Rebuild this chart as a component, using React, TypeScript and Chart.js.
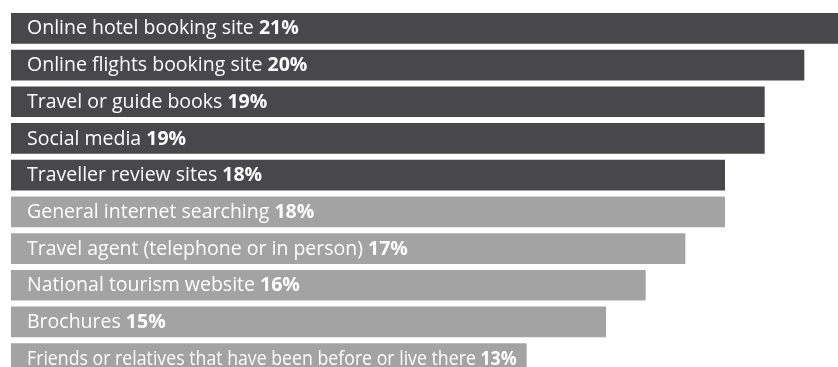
import React, { useEffect, useRef } from "react";
import { Chart, registerables } from "chart.js";

Chart.register(...registerables);

const categories = [
  "Online hotel booking site",
  "Online flights booking site",
  "Travel or guide books",
  "Social media",
  "Traveller review sites",
  "General internet searching",
  "Travel agent (telephone or in person)",
  "National tourism website",
  "Brochures",
  "Friends or relatives that have been before or live there",
];
const values = [21, 20, 19, 19, 18, 18, 17, 16, 15, 13];
const groups = ["dark", "dark", "dark", "dark", "dark", "light", "light", "light", "light", "light"];

const DARK = "#48484a";
const LIGHT = "#a3a3a3";
const FONT = '"Open Sans", sans-serif';
const FONT_SIZE = 19.5;

const labelPlugin = {
  id: "inBarLabels",
  afterDatasetsDraw(chart: any) {
    const ctx = chart.ctx;
    const meta = chart.getDatasetMeta(0);
    const area = chart.chartArea;
    ctx.save();
    ctx.beginPath();
    ctx.rect(area.left, area.top, area.right - area.left, area.bottom - area.top);
    ctx.clip();
    ctx.fillStyle = "#ffffff";
    ctx.textBaseline = "middle";
    meta.data.forEach((bar: any, i: number) => {
      const left = bar.base;
      const right = bar.x;
      const y = bar.y + 0.5;
      const textX = left + 16;
      const main = categories[i] + " ";
      const pct = values[i] + "%";
      ctx.font = `400 ${FONT_SIZE}px ${FONT}`;
      const w1 = ctx.measureText(main).width;
      ctx.font = `700 ${FONT_SIZE}px ${FONT}`;
      const w2 = ctx.measureText(pct).width;
      const total = w1 + w2;
      const avail = right - 10 - textX;
      const f = total > avail ? avail / total : 1;
      ctx.save();
      ctx.translate(textX, y);
      ctx.scale(f, 1);
      ctx.font = `400 ${FONT_SIZE}px ${FONT}`;
      ctx.fillText(main, 0, 0);
      ctx.font = `700 ${FONT_SIZE}px ${FONT}`;
      ctx.fillText(pct, w1, 0);
      ctx.restore();
    });
    ctx.restore();
  },
};

export default function App() {
  const ref = useRef<HTMLCanvasElement | null>(null);
  useEffect(() => {
    if (!ref.current) return;
    const chart = new Chart(ref.current, {
      type: "bar",
      data: {
        labels: categories,
        datasets: [
          {
            data: values,
            backgroundColor: groups.map((g) => (g === "dark" ? DARK : LIGHT)),
            borderWidth: 0,
            categoryPercentage: 1,
            barPercentage: 0.837,
          },
        ],
      },
      options: {
        indexAxis: "y",
        responsive: false,
        animation: false,
        events: [],
        layout: { padding: { left: 11, right: 6, top: 10, bottom: 0 } },
        plugins: {
          legend: { display: false },
          tooltip: { enabled: false },
        },
        scales: {
          x: { min: 0, max: 21, display: false, grid: { display: false } },
          y: { display: false, grid: { display: false } },
        },
      },
      plugins: [labelPlugin],
    });
    return () => chart.destroy();
  }, []);
  return (
    <div
      style={{
        position: "fixed",
        left: 0,
        top: 0,
        width: 838,
        height: 367,
        overflow: "hidden",
        background: "#ffffff",
      }}
    >
      <canvas ref={ref} width={850} height={377} style={{ display: "block", width: 850, height: 377 }} />
    </div>
  );
}
